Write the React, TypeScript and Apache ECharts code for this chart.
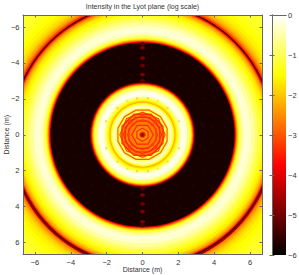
import React, { useEffect, useRef } from "react";
import * as echarts from "echarts";

const TITLE = "Intensity in the Lyot plane (log scale)";
const AXIS_NAME = "Distance (m)";
const POS_TICKS = [-6, -4, -2, 0, 2, 4, 6];
const MINOR_BAR_TICKS = [-6, -5, -4, -3, -2, -1, 0];
const EXTENT = 6.67;

// radial profile, outermost first: [outer radius in m, log10 intensity]
const RING_RADII = [
  9.6, 9.1, 8.7, 8.4, 8.15, 7.95, 7.8, 7.68, 7.58, 7.5, 7.44, 7.39, 7.34, 7.29, 7.24, 7.18, 7.1, 7.0, 6.9, 6.75, 6.6,
  6.42, 6.26, 6.05, 5.85, 5.7, 5.58, 5.48, 5.4, 5.35, 5.3, 5.25, 5.2, 5.14,
  3.02, 2.95, 2.9, 2.86, 2.82, 2.77, 2.72, 2.64, 2.5, 2.35, 2.22, 2.14, 2.04, 1.96, 1.9, 1.84, 1.78, 1.7, 1.62, 1.54,
  1.47, 1.2, 0.9, 0.5, 0.3, 0.2, 0.13,
];
const RING_LOG = [
  -1.2, -1.25, -1.35, -1.5, -1.6, -1.75, -1.95, -2.2, -2.5, -2.8, -3.3, -4.6, -5.3, -4.4, -3.2, -2.55, -2.15, -1.8,
  -1.6, -1.35, -1.1, -0.85, -0.55, -0.3, -0.22, -0.4, -0.7, -1.0, -1.4, -1.75, -2.3, -3.0, -3.9, -5.8,
  -5.8, -5.3, -4.4, -3.4, -2.6, -1.9, -1.3, -0.8, -0.25, -0.08, -0.2, -0.6, -1.1,
  -1.5, -1.8, -2.2, -1.5, -0.7, -0.35, -0.6, -1.1, -2.65, -2.65, -2.55, -2.4, -3.0, -4.4,
];

// dark web lines of the central disc: radius, polygon sides, rotation (deg), log10 intensity
const WEB_RADII = [0.36, 0.6, 0.82, 1.04, 1.24, 1.42, 1.06, 1.26, 0.84];
const WEB_SIDES = [6, 6, 8, 8, 8, 12, 8, 8, 8];
const WEB_TURN = [30, 0, 22.5, 22.5, 22.5, 15, 0, 0, 0];
const WEB_LOG = [-3.5, -3.5, -3.5, -3.6, -3.6, -3.2, -3.4, -3.4, -3.3];

// bright column of spots in the dark zone: x, y, log10 intensity
const COLUMN_SPOTS = [
  [0, -5.05, -5.3], [0, -4.85, -4.9], [0, -4.27, -4.9], [0, -3.85, -5.1], [0, -3.35, -4.9], [0, -3.0, -5.2],
  [0, 5.05, -5.3], [0, 4.85, -4.9], [0, 4.27, -4.9], [0, 3.85, -5.1], [0, 3.35, -4.9], [0, 3.0, -5.2],
];
// faint lattice of spots in the dark zone (one quadrant, mirrored when drawn)
const FAINT_SPOTS = [
  [0.6, 3.3], [1.2, 3.1], [1.9, 2.8], [2.6, 2.3], [3.1, 1.4], [3.3, 0.6],
  [0.7, 3.9], [1.4, 3.7], [2.1, 3.3], [2.8, 2.8], [3.4, 2.0], [3.8, 1.2], [3.9, 0.4],
  [0.6, 4.5], [1.3, 4.3], [2.1, 4.0], [2.9, 3.5], [3.5, 2.9], [4.0, 2.1], [4.4, 1.2], [4.55, 0.4],
  [0.5, 4.95], [1.6, 4.7], [3.2, 3.8], [3.9, 3.0], [4.6, 1.8], [4.9, 0.7],
];
const FAINT_LOG = -5.65;
// orange bumps in the yellow band around the disc
const BAND_BUMPS = [
  [-0.3, -2.03, -2.0], [0.3, -2.03, -2.0], [-0.3, 2.03, -2.0], [0.3, 2.03, -2.0],
  [-2.03, -0.75, -1.9], [2.03, -0.75, -1.9], [-2.03, 0.75, -1.9], [2.03, 0.75, -1.9],
  [-1.4, -1.5, -1.9], [1.4, -1.5, -1.9], [-1.4, 1.5, -1.9], [1.4, 1.5, -1.9],
  [-0.85, -1.88, -1.7], [0.85, -1.88, -1.7], [-0.85, 1.88, -1.7], [0.85, 1.88, -1.7],
];

const BAR_RANGE = [[0, 1, -6, 0]];

function hot(v: number): string {
  const t = Math.max(0, Math.min(1, (v + 6) / 6));
  const r = Math.min(1, t / 0.375);
  const g = Math.max(0, Math.min(1, (t - 0.375) / 0.375));
  const b = Math.max(0, Math.min(1, (t - 0.75) / 0.25));
  return `rgb(${Math.round(r * 255)},${Math.round(g * 255)},${Math.round(b * 255)})`;
}

const FONT = "Liberation Sans";
const TEXT = "#333";
const FRAME = "#666";
const minus = (v: number | string) => String(v).replace("-", "\u2212");

function App() {
  const ref = useRef<HTMLDivElement>(null);
  useEffect(() => {
    const chart = echarts.init(ref.current!, undefined, { renderer: "svg" });
    const posAxis = (extra: any) => ({
      type: "value",
      min: -EXTENT,
      max: EXTENT,
      z: 10,
      splitLine: { show: false },
      axisLine: { show: true, onZero: false, lineStyle: { color: FRAME, width: 1 } },
      axisTick: { show: true, inside: true, length: 2.5, customValues: POS_TICKS, lineStyle: { color: FRAME, width: 1 } },
      ...extra,
    });
    const labelStyle = { customValues: POS_TICKS, color: TEXT, fontFamily: FONT, fontSize: 7.5, formatter: minus };
    const nameStyle = { color: TEXT, fontFamily: FONT, fontSize: 7 };
    const barAxis = (extra: any) => ({
      type: "value",
      gridIndex: 1,
      min: -6,
      max: 0,
      interval: 1,
      z: 10,
      splitLine: { show: false },
      axisLine: { show: true, lineStyle: { color: FRAME, width: 1 } },
      axisTick: { show: true, inside: true, length: 2.5, customValues: MINOR_BAR_TICKS, lineStyle: { color: FRAME, width: 1 } },
      ...extra,
    });
    const faint: number[][] = [];
    FAINT_SPOTS.forEach(([x, y]) => {
      faint.push([x, y, FAINT_LOG], [-x, y, FAINT_LOG], [x, -y, FAINT_LOG], [-x, -y, FAINT_LOG]);
    });
    chart.setOption({
      animation: false,
      backgroundColor: "#fff",
      textStyle: { fontFamily: FONT },
      title: {
        text: TITLE,
        left: 142.5,
        top: 3,
        padding: 0,
        textAlign: "center",
        textStyle: { color: TEXT, fontFamily: FONT, fontSize: 7, fontWeight: "normal" },
      },
      grid: [
        { left: 23, top: 15, width: 239, height: 239.5, containLabel: false, outerBoundsMode: "none" },
        { left: 272, top: 15, width: 14, height: 240, containLabel: false, outerBoundsMode: "none" },
      ],
      xAxis: [
        posAxis({
          position: "bottom",
          name: AXIS_NAME,
          nameLocation: "middle",
          nameGap: 11,
          nameMoveOverlap: false,
          nameTextStyle: nameStyle,
          axisLabel: { ...labelStyle, margin: 3.5 },
        }),
        posAxis({ position: "top", axisLabel: { show: false } }),
        { type: "value", gridIndex: 1, min: 0, max: 1, position: "bottom", axisLabel: { show: false }, axisTick: { show: false }, splitLine: { show: false }, axisLine: { show: true, lineStyle: { color: FRAME } }, z: 10 },
        { type: "value", gridIndex: 1, min: 0, max: 1, position: "top", axisLabel: { show: false }, axisTick: { show: false }, splitLine: { show: false }, axisLine: { show: true, lineStyle: { color: FRAME } }, z: 10 },
      ],
      yAxis: [
        posAxis({
          position: "left",
          inverse: true,
          name: AXIS_NAME,
          nameLocation: "middle",
          nameGap: 13,
          nameMoveOverlap: false,
          nameTextStyle: nameStyle,
          axisLabel: { ...labelStyle, margin: 3.5 },
        }),
        posAxis({ position: "right", inverse: true, axisLabel: { show: false } }),
        barAxis({
          position: "right",
          axisLabel: { color: TEXT, fontFamily: FONT, fontSize: 7.5, margin: 2, formatter: minus },
        }),
        barAxis({ position: "left", axisLabel: { show: false } }),
      ],
      series: [
        {
          type: "custom",
          xAxisIndex: 0,
          yAxisIndex: 0,
          clip: true,
          silent: true,
          data: RING_RADII.map((r, i) => [r, RING_LOG[i]]),
          renderItem: (_p: any, api: any) => {
            const c = api.coord([0, 0]);
            const r = api.size([api.value(0), 0])[0];
            return { type: "circle", shape: { cx: c[0], cy: c[1], r }, style: { fill: hot(api.value(1)), stroke: null } };
          },
        },
        {
          type: "custom",
          xAxisIndex: 0,
          yAxisIndex: 0,
          clip: true,
          silent: true,
          z: 3,
          data: WEB_RADII.map((r, i) => [r, WEB_SIDES[i], WEB_TURN[i], WEB_LOG[i]]),
          renderItem: (_p: any, api: any) => {
            const n = api.value(1);
            const turn = (api.value(2) * Math.PI) / 180;
            const r = api.value(0);
            const points = [];
            for (let k = 0; k < n; k++) {
              const a = turn + (k * 2 * Math.PI) / n;
              points.push(api.coord([r * Math.cos(a), r * Math.sin(a)]));
            }
            return {
              type: "polygon",
              shape: { points },
              style: { fill: "none", stroke: hot(api.value(3)), lineWidth: 1.2, opacity: 0.85 },
            };
          },
        },
        {
          type: "scatter",
          xAxisIndex: 0,
          yAxisIndex: 0,
          z: 3,
          silent: true,
          symbol: "circle",
          symbolSize: 2.5,
          data: faint,
          itemStyle: { color: (p: any) => hot(p.value[2]), opacity: 1 },
        },
        {
          type: "scatter",
          xAxisIndex: 0,
          yAxisIndex: 0,
          z: 4,
          silent: true,
          symbol: "circle",
          symbolSize: [5, 3.5],
          data: COLUMN_SPOTS,
          itemStyle: { color: (p: any) => hot(p.value[2]), opacity: 1 },
        },
        {
          type: "scatter",
          xAxisIndex: 0,
          yAxisIndex: 0,
          z: 4,
          silent: true,
          symbol: "circle",
          symbolSize: 2.5,
          data: BAND_BUMPS,
          itemStyle: { color: (p: any) => hot(p.value[2]), opacity: 0.7 },
        },
        {
          type: "custom",
          xAxisIndex: 2,
          yAxisIndex: 2,
          silent: true,
          data: BAR_RANGE,
          renderItem: (_p: any, api: any) => {
            const a = api.coord([api.value(0), api.value(3)]);
            const b = api.coord([api.value(1), api.value(2)]);
            return {
              type: "rect",
              shape: { x: a[0], y: a[1], width: b[0] - a[0], height: b[1] - a[1] },
              style: {
                fill: new echarts.graphic.LinearGradient(0, 0, 0, 1, [
                  { offset: 0, color: "#ffffff" },
                  { offset: 0.25, color: "#ffff00" },
                  { offset: 0.625, color: "#ff0000" },
                  { offset: 1, color: "#000000" },
                ]),
              },
            };
          },
        },
      ],
    });
    return () => chart.dispose();
  }, []);
  return <div ref={ref} style={{ position: "absolute", left: 0, top: 0, width: 299, height: 275 }} />;
}

export default App;
